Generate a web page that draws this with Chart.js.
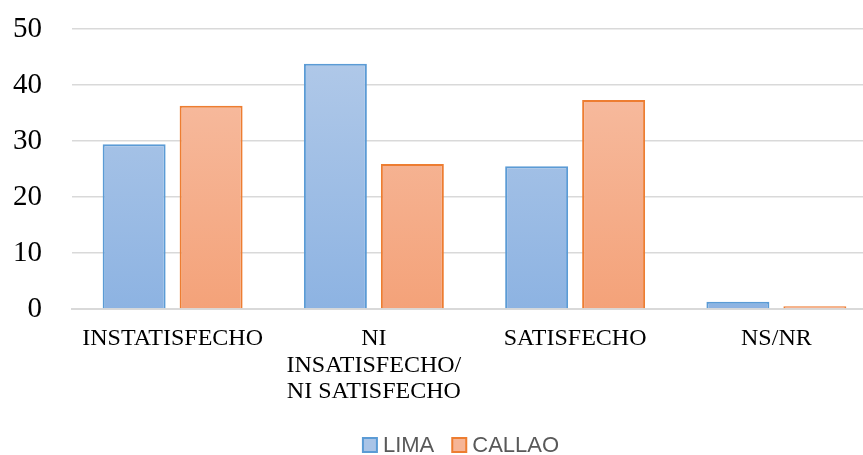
<!DOCTYPE html>
<html>
<head>
<meta charset="utf-8">
<script src="https://cdn.jsdelivr.net/npm/chart.js@4.4.1/dist/chart.umd.min.js"></script>
<style>
  html, body { margin: 0; padding: 0; background: #fff; overflow: hidden; }
  /* el área del gráfico sigue algo más allá del borde derecho, como en el original */
  #wrap { width: 878px; height: 455px; }
</style>
</head>
<body>
<div id="wrap"><canvas id="grafico"></canvas></div>
<script>
const categorias = ["INSTATISFECHO", ["NI", "INSATISFECHO/", "NI SATISFECHO"], "SATISFECHO", "NS/NR"];
const lima = [29.4, 43.8, 25.5, 1.3];
const callao = [36.3, 25.9, 37.3, 0.5];
const ticksY = [0, 10, 20, 30, 40, 50];
const rellenoLeyenda = ["#a9c4e7", "#f6b596"];

function degradado(ctx, arriba, abajo) {
  const area = ctx.chart.chartArea;
  if (!area) return abajo;
  const g = ctx.chart.ctx.createLinearGradient(0, area.top, 0, area.bottom);
  g.addColorStop(0, arriba);
  g.addColorStop(1, abajo);
  return g;
}

// leyenda propia, centrada bajo las barras
const leyenda = {
  id: "leyenda",
  afterDraw(chart) {
    const c = chart.ctx;
    c.save();
    c.font = "22px 'Liberation Sans', Arial, sans-serif";
    c.textBaseline = "middle";
    const caja = 14, gapTexto = 6, gapItem = 18;
    const items = chart.data.datasets.map((ds) => ({ ds, w: c.measureText(ds.label).width }));
    let total = 0;
    items.forEach((it, i) => { total += caja + gapTexto + it.w + (i ? gapItem : 0); });
    let x = 461 - total / 2;
    const y = 445;
    items.forEach((it, i) => {
      c.fillStyle = rellenoLeyenda[i];
      c.fillRect(x, y - caja / 2, caja, caja);
      c.strokeStyle = it.ds.borderColor;
      c.lineWidth = 2;
      c.strokeRect(x, y - caja / 2, caja, caja);
      x += caja + gapTexto;
      c.fillStyle = "#595959";
      c.fillText(it.ds.label, x, y + 1);
      x += it.w + gapItem;
    });
    c.restore();
  },
};

const ctx = document.querySelector("#grafico");

new Chart(ctx, {
  type: "bar",
  data: {
    labels: categorias,
    datasets: [
      {
        label: "LIMA",
        data: lima,
        backgroundColor: (c) => degradado(c, "#b4cbe9", "#8db3e2"),
        borderColor: "#5b9bd5",
        borderWidth: 2,
      },
      {
        label: "CALLAO",
        data: callao,
        backgroundColor: (c) => degradado(c, "#f7c1a8", "#f4a279"),
        borderColor: "#ed7d31",
        borderWidth: 2,
      },
    ],
  },
  plugins: [leyenda],
  options: {
    responsive: true,
    maintainAspectRatio: false,
    animation: false,
    layout: { padding: { left: 8, right: 1, top: 29, bottom: 29 } },
    datasets: {
      bar: { barPercentage: 0.818, categoryPercentage: 0.765 },
    },
    scales: {
      x: {
        afterFit: (axis) => { axis.height = 117; },
        grid: { display: false, drawTicks: false },
        border: { display: true, color: "#d9d9d9", width: 2 },
        ticks: {
          color: "#000",
          font: { family: "'Liberation Serif', 'Times New Roman', serif", size: 24, lineHeight: 1.1 },
          padding: 17,
          maxRotation: 0,
          autoSkip: false,
        },
      },
      y: {
        min: 0,
        max: 50,
        afterBuildTicks: (axis) => {
          axis.ticks = ticksY.map((v) => ({ value: v }));
        },
        afterFit: (axis) => {
          axis.width = 64;
          axis.paddingTop = 0;
          axis.paddingBottom = 0;
        },
        grid: { color: "#d9d9d9", lineWidth: 1.5, drawTicks: false },
        border: { display: false },
        ticks: {
          color: "#000",
          font: { family: "'Liberation Serif', 'Times New Roman', serif", size: 29 },
          padding: 30,
        },
      },
    },
    plugins: {
      legend: { display: false },
      tooltip: { enabled: false },
    },
  },
});
</script>
</body>
</html>
